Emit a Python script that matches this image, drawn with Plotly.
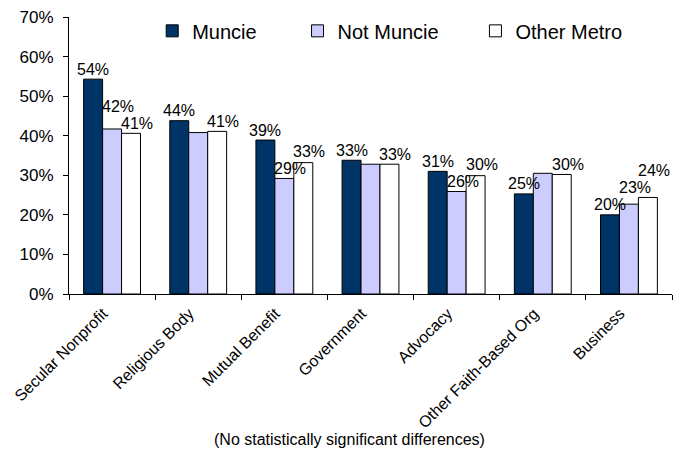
import plotly.graph_objects as go

categories = ['Secular Nonprofit', 'Religious Body', 'Mutual Benefit', 'Government',
              'Advocacy', 'Other Faith-Based Org', 'Business']

muncie = [54.3, 43.8, 38.9, 33.8, 31.0, 25.3, 20.0]
not_muncie = [41.7, 40.8, 29.2, 32.8, 25.9, 30.5, 22.7]
other_metro = [40.6, 41.1, 33.2, 32.8, 29.9, 30.2, 24.4]

# labels as printed on the chart ('' where the label is hidden)
muncie_lbl = ['54%', '44%', '39%', '33%', '31%', '25%', '20%']
not_muncie_lbl = ['42%', '', '29%', '', '26%', '', '23%']
other_metro_lbl = ['41%', '41%', '33%', '33%', '30%', '30%', '24%']

FONT = 'Liberation Sans, Arial, sans-serif'
W, H = 676, 449
ML, MR, MT, MB = 69, 4, 17, 155
YMAX = 70
BARGAP = 0.34

series = [
    ('Muncie', muncie, muncie_lbl, '#003366'),
    ('Not Muncie', not_muncie, not_muncie_lbl, '#CCCCFF'),
    ('Other Metro', other_metro, other_metro_lbl, '#FFFFFF'),
]
legend_x = [0.138, 0.379, 0.674]

fig = go.Figure()
for i, (name, vals, lbls, col) in enumerate(series):
    fig.add_trace(go.Bar(
        x=categories, y=vals, name=name,
        marker=dict(color=col, line=dict(color='#000000', width=1)),
        legend='legend' if i == 0 else 'legend%d' % (i + 1),
    ))

# data labels, nudged up when neighbours collide
plot_w = W - ML - MR
plot_h = H - MT - MB
ppu = plot_h / YMAX
bar_w = plot_w / len(categories) * (1 - BARGAP) / len(series)
label_dx = [0, 6, 6]
pad, gap, lbl_w = 10, 17, 32
for c, cat in enumerate(categories):
    shown = []
    for s, (name, vals, lbls, col) in enumerate(series):
        if lbls[c]:
            xs = (s - 1) * bar_w + label_dx[s]
            shown.append([xs, vals[c] * ppu + pad, vals[c], lbls[c]])
    for k in range(1, len(shown)):
        a, b = shown[k - 1], shown[k]
        if abs(a[0] - b[0]) < lbl_w and abs(a[1] - b[1]) < gap:
            if a[2] >= b[2]:
                a[1] = b[1] + gap
            else:
                b[1] = a[1] + gap
    for xs, ypx, v, txt in shown:
        fig.add_annotation(x=cat, y=ypx / ppu, xref='x', yref='y', text=txt,
                           showarrow=False, xshift=xs, yanchor='middle',
                           font=dict(family=FONT, size=16, color='#000000'))

leg = dict(orientation='h', y=0.95, xanchor='left', yanchor='middle',
           font=dict(size=20), itemwidth=30, bgcolor='rgba(0,0,0,0)')
fig.update_layout(
    barmode='group',
    bargap=BARGAP,
    bargroupgap=0,
    width=W, height=H,
    margin=dict(l=ML, r=MR, t=MT, b=MB),
    paper_bgcolor='white', plot_bgcolor='white',
    font=dict(family=FONT, size=14, color='#000000'),
    showlegend=True,
    legend=dict(leg, x=legend_x[0]),
    legend2=dict(leg, x=legend_x[1]),
    legend3=dict(leg, x=legend_x[2]),
    xaxis=dict(tickangle=-45, tickson='boundaries', ticks='outside', ticklen=5,
               tickcolor='#000000', showline=True, linecolor='#000000', linewidth=1,
               tickfont=dict(size=16), automargin=False,
               ticklabelshift=-9, ticklabelstandoff=3),
    yaxis=dict(range=[0, YMAX], dtick=10, ticksuffix='%', ticks='outside', ticklen=5,
               tickcolor='#000000', showline=True, linecolor='#000000', linewidth=1,
               showgrid=False, zeroline=False, tickfont=dict(size=17), automargin=False,
               ticklabelstandoff=6),
)

fig.add_annotation(text='(No statistically significant differences)', x=0.466, y=-0.527,
                   xref='paper', yref='paper', showarrow=False, yanchor='middle',
                   font=dict(size=16, family=FONT))

fig.write_html('out.html', config={'displayModeBar': False},
               post_script="document.body.style.margin='0';")
